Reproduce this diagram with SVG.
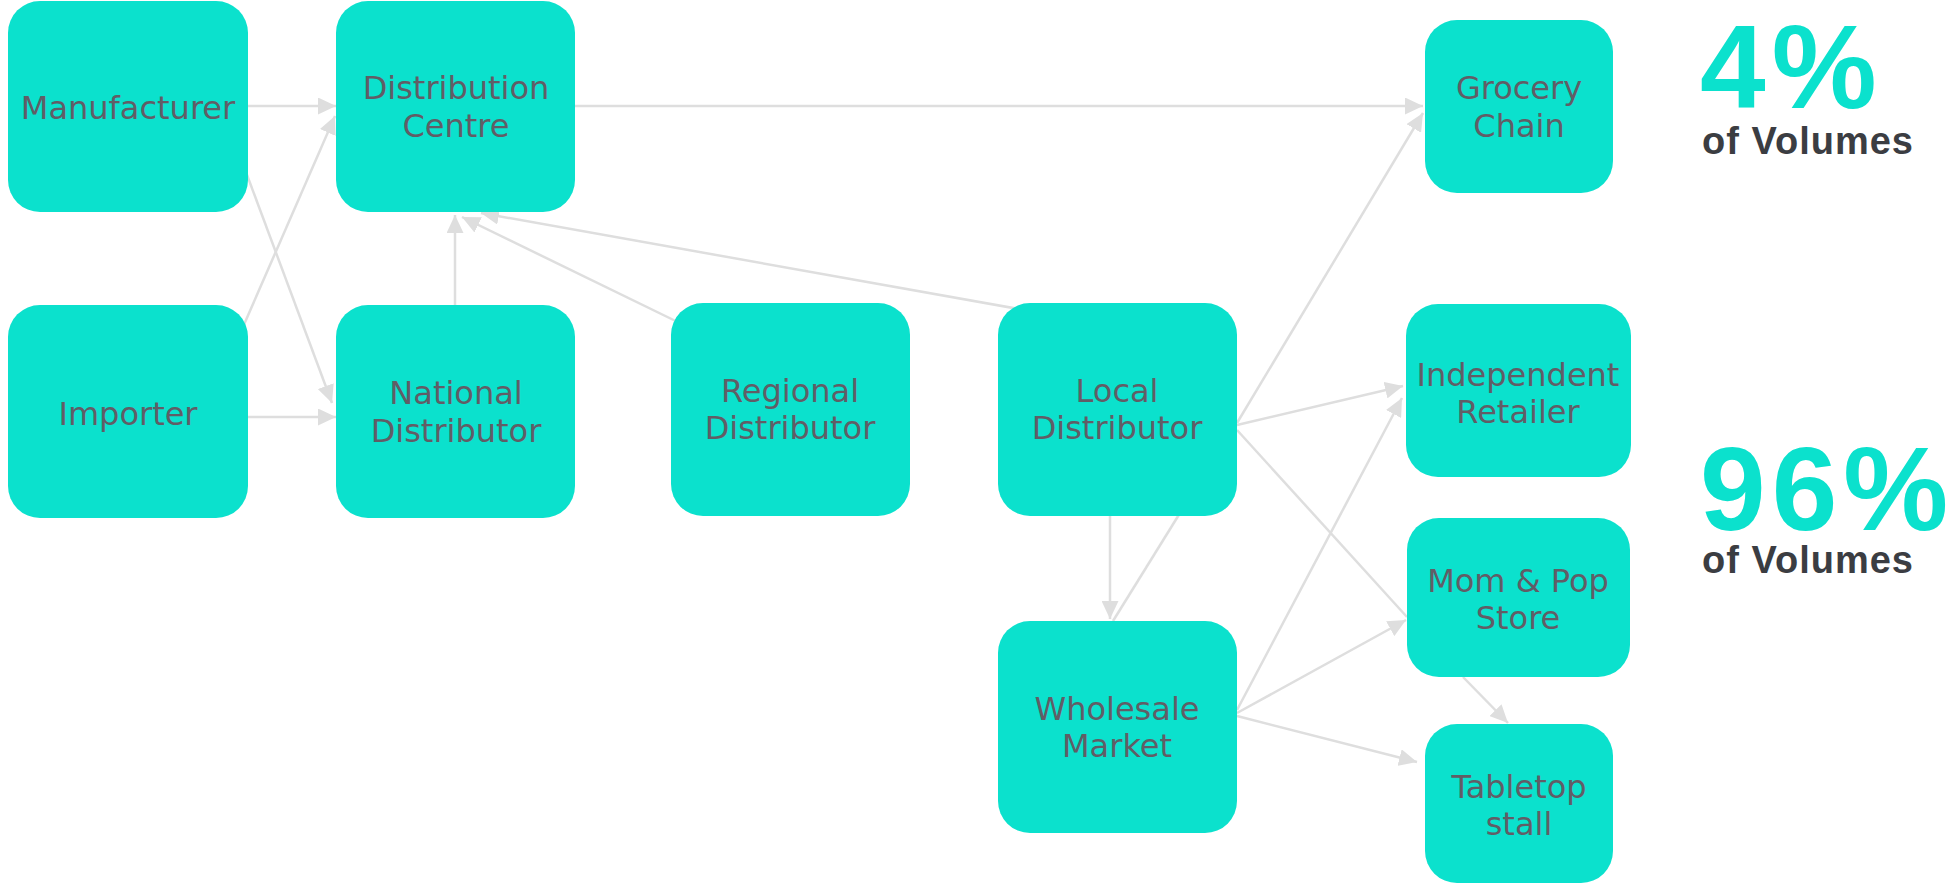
<svg xmlns="http://www.w3.org/2000/svg" width="1952" height="886" viewBox="0 0 1952 886">
<style>
.node{fill:#0be1cd}
.lbl{font-family:"DejaVu Sans","Liberation Sans",Arial,sans-serif;font-size:32px;fill:#615d66;text-anchor:middle}
.edge{stroke:#dedede;stroke-width:2.5;fill:none}
.big{font-family:"Liberation Sans",Arial,sans-serif;font-size:118px;font-weight:bold;fill:#0be1cd;letter-spacing:6px}
.sub{font-family:"Liberation Sans",Arial,sans-serif;font-size:38px;font-weight:bold;fill:#3b3d42;letter-spacing:1px}
</style>
<defs>
<marker id="arr" markerUnits="userSpaceOnUse" markerWidth="18" markerHeight="17" refX="18" refY="8.5" orient="auto">
<path d="M0,0 L18,8.5 L0,17 z" fill="#dedede"/>
</marker>
</defs>
<g id="connectors">
<line class="edge" x1="248" y1="106" x2="336" y2="106" marker-end="url(#arr)"/>
<line class="edge" x1="236" y1="343" x2="335" y2="116" marker-end="url(#arr)"/>
<line class="edge" x1="240" y1="156" x2="332" y2="403" marker-end="url(#arr)"/>
<line class="edge" x1="248" y1="417" x2="336" y2="417" marker-end="url(#arr)"/>
<line class="edge" x1="455" y1="305" x2="455" y2="215" marker-end="url(#arr)"/>
<line class="edge" x1="690" y1="328" x2="462" y2="217" marker-end="url(#arr)"/>
<line class="edge" x1="1030" y1="311" x2="481" y2="213" marker-end="url(#arr)"/>
<line class="edge" x1="575" y1="106" x2="1423" y2="106" marker-end="url(#arr)"/>
<line class="edge" x1="1237" y1="423" x2="1423" y2="113" marker-end="url(#arr)"/>
<line class="edge" x1="1237" y1="425" x2="1403" y2="386" marker-end="url(#arr)"/>
<line class="edge" x1="1237" y1="430" x2="1407" y2="617"/>
<line class="edge" x1="1110" y1="516" x2="1110" y2="619" marker-end="url(#arr)"/>
<line class="edge" x1="1113" y1="621" x2="1180" y2="513"/>
<line class="edge" x1="1237" y1="710" x2="1402" y2="398" marker-end="url(#arr)"/>
<line class="edge" x1="1237" y1="713" x2="1406" y2="620" marker-end="url(#arr)"/>
<line class="edge" x1="1237" y1="716" x2="1417" y2="762" marker-end="url(#arr)"/>
<line class="edge" x1="1463" y1="677" x2="1508" y2="723" marker-end="url(#arr)"/>
</g>
<g id="manufacturer"><rect class="node" x="8" y="1" width="240" height="211" rx="32"/><text class="lbl" x="128" y="119">Manufacturer</text></g>
<g id="distribution-centre"><rect class="node" x="336" y="1" width="239" height="211" rx="32"/><text class="lbl" x="456" y="99">Distribution<tspan x="456" y="137">Centre</tspan></text></g>
<g id="importer"><rect class="node" x="8" y="305" width="240" height="213" rx="32"/><text class="lbl" x="128" y="425">Importer</text></g>
<g id="national-distributor"><rect class="node" x="336" y="305" width="239" height="213" rx="32"/><text class="lbl" x="456" y="404">National<tspan x="456" y="442">Distributor</tspan></text></g>
<g id="regional-distributor"><rect class="node" x="671" y="303" width="239" height="213" rx="32"/><text class="lbl" x="790" y="402">Regional<tspan x="790" y="439">Distributor</tspan></text></g>
<g id="local-distributor"><rect class="node" x="998" y="303" width="239" height="213" rx="32"/><text class="lbl" x="1117" y="402">Local<tspan x="1117" y="439">Distributor</tspan></text></g>
<g id="wholesale-market"><rect class="node" x="998" y="621" width="239" height="212" rx="32"/><text class="lbl" x="1117" y="720">Wholesale<tspan x="1117" y="757">Market</tspan></text></g>
<g id="grocery-chain"><rect class="node" x="1425" y="20" width="188" height="173" rx="32"/><text class="lbl" x="1519" y="99">Grocery<tspan x="1519" y="137">Chain</tspan></text></g>
<g id="independent-retailer"><rect class="node" x="1406" y="304" width="225" height="173" rx="32"/><text class="lbl" x="1518" y="386">Independent<tspan x="1518" y="423">Retailer</tspan></text></g>
<g id="mom-pop-store"><rect class="node" x="1407" y="518" width="223" height="159" rx="32"/><text class="lbl" x="1518" y="592">Mom &amp; Pop<tspan x="1518" y="629">Store</tspan></text></g>
<g id="tabletop-stall"><rect class="node" x="1425" y="724" width="188" height="159" rx="32"/><text class="lbl" x="1519" y="798">Tabletop<tspan x="1519" y="835">stall</tspan></text></g>
<g id="stats">
<text class="big" x="1700" y="108">4%</text>
<text class="sub" x="1702" y="154">of Volumes</text>
<text class="big" x="1700" y="530">96%</text>
<text class="sub" x="1702" y="573">of Volumes</text>
</g>
</svg>
